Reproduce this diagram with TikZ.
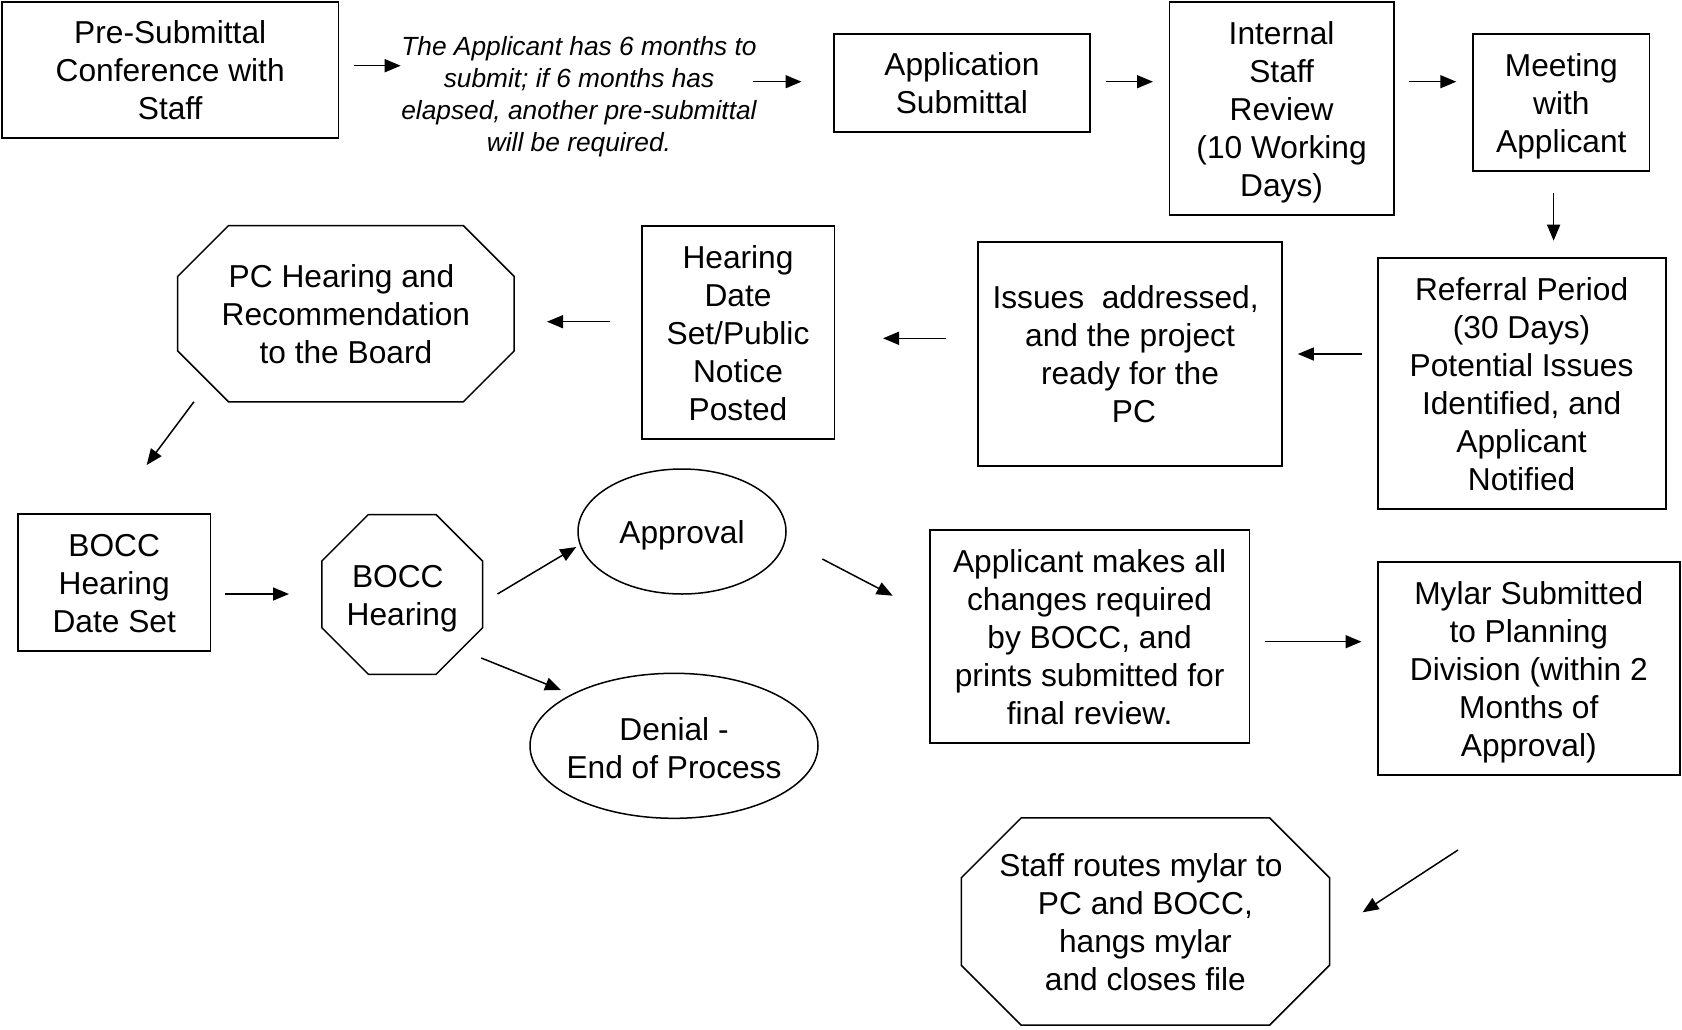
\documentclass[tikz,border=0pt]{standalone}
\usepackage{fontspec}
\setmainfont{Liberation Sans}
\usetikzlibrary{arrows.meta,calc}
\newcommand\bigf{\fontsize{31.7pt}{38pt}\selectfont}
\newcommand\notef{\fontsize{26.3pt}{32.2pt}\selectfont\itshape}
\newcommand\st{\rule[-7.2pt]{0pt}{38pt}}
\newcommand\sti{\rule[-6.1pt]{0pt}{32.2pt}}
\newcommand\tsp{\hspace*{8.8pt}}
\newcommand\octo[2]{%
  \draw[shp] ($(#1.north west)+(#2,0)$) -- ($(#1.north east)+(-#2,0)$) -- ($(#1.north east)+(0,#2)$) -- ($(#1.south east)+(0,-#2)$) -- ($(#1.south east)+(-#2,0)$) -- ($(#1.south west)+(#2,0)$) -- ($(#1.south west)+(0,-#2)$) -- ($(#1.north west)+(0,#2)$) -- cycle;}
\begin{document}
\begin{tikzpicture}[x=1pt,y=-1pt,
  box/.style={draw, line width=1.8pt, inner sep=0pt, align=center, font=\bigf},
  txt/.style={inner sep=0pt, align=center, font=\bigf},
  area/.style={inner sep=0pt, align=center, font=\bigf},
  shp/.style={line width=1.5pt, line join=miter},
  arr/.style={line width=1.5pt, -{Triangle[length=16pt,width=13pt]}}]
\useasboundingbox (0,0) rectangle (1682,1029);
% boxes
\node[box, minimum width=336.7pt, minimum height=136.6pt] (pre) at (170.2,70) {\st Pre-Submittal\\Conference with\\Staff\st};
\node[inner sep=0pt, align=center, font=\notef] (note) at (579,93.3) {\sti The Applicant has 6 months to\\submit; if 6 months has\\elapsed, another pre-submittal\\will be required.\sti};
\node[box, minimum width=256.3pt, minimum height=98pt] (app) at (961.9,82.7) {\st Application\\Submittal\st};
\node[box, minimum width=224.3pt, minimum height=213.3pt] (isr) at (1281.6,108.4) {\st Internal\\Staff\\Review\\(10 Working\\Days)\st};
\node[box, minimum width=176.5pt, minimum height=137pt] (meet) at (1561.3,102.2) {\st Meeting\\with\\Applicant\st};
\node[box, minimum width=288pt, minimum height=251.6pt] (ref) at (1521.6,383.5) {\st Referral Period\\(30 Days)\\Potential Issues\\Identified, and\\Applicant\\Notified\st};
\node[box, minimum width=304pt, minimum height=224pt] (iss) at (1130,353.7) {\st Issues\ \ addressed,\tsp\\and the project\tsp\\ready for the\tsp\\\hspace*{8pt}PC\st};
\node[box, minimum width=192.8pt, minimum height=213.3pt] (hds) at (738,332.4) {\st Hearing\\Date\\Set/Public\\Notice\\Posted\st};
\node[area, minimum width=336.2pt, minimum height=176pt] (pch) at (345.9,313.7) {\st PC Hearing and\tsp\\Recommendation\tsp\\to the Board\st};
\octo{pch}{51}
\node[box, minimum width=192.5pt, minimum height=136.7pt] (bds) at (114.2,582.4) {\st BOCC\\Hearing\\Date Set\st};
\node[area, minimum width=160.3pt, minimum height=159.3pt] (bh) at (402.2,594.4) {\st BOCC\tsp\\Hearing\st};
\octo{bh}{46.5}
\node[txt] (apv) at (682,531.5) {\st Approval};
\draw[shp] (682,531.5) ellipse [x radius=104pt, y radius=62.5pt];
\node[txt] (den) at (674,748) {\st Denial -\\End of Process\st};
\draw[shp] (674,745.8) ellipse [x radius=144pt, y radius=72.5pt];
\node[box, minimum width=319.9pt, minimum height=213.6pt] (amk) at (1089.6,636.5) {\st Applicant makes all\\changes required\\by BOCC, and\\prints submitted for\\final review.\st};
\node[box, minimum width=302.4pt, minimum height=213.3pt] (myl) at (1528.8,668.4) {\st Mylar Submitted\\to Planning\\Division (within 2\\Months of\\Approval)\st};
\node[area, minimum width=367.9pt, minimum height=207pt] (sta) at (1145.4,921.5) {\st Staff routes mylar to\tsp\\PC and BOCC,\tsp\\hangs mylar\tsp\\and closes file\st};
\octo{sta}{60}
% connector end points
\coordinate (a1s) at (353.5,65.7);  \coordinate (a1e) at (400.7,65.7);
\coordinate (a2s) at (753,81.7);    \coordinate (a2e) at (801.5,81.7);
\coordinate (a3s) at (1105.6,81.7); \coordinate (a3e) at (1153,81.7);
\coordinate (a4s) at (1409,81.7);   \coordinate (a4e) at (1456.3,81.7);
\coordinate (a5s) at (1553.6,193.3);\coordinate (a5e) at (1553.6,240.7);
\coordinate (a6s) at (1362,354);    \coordinate (a6e) at (1297.8,354);
\coordinate (a7s) at (946.4,338.3); \coordinate (a7e) at (883,338.3);
\coordinate (a8s) at (610,321.7);   \coordinate (a8e) at (547,321.7);
\coordinate (a9s) at (194,401.7);   \coordinate (a9e) at (146.7,465);
\coordinate (a10s) at (225.4,594);  \coordinate (a10e) at (289,594);
\coordinate (a11s) at (497.5,594);  \coordinate (a11e) at (576.2,547);
\coordinate (a12s) at (481.2,658);  \coordinate (a12e) at (561,690);
\coordinate (a13s) at (822.3,559);  \coordinate (a13e) at (892.7,595.7);
\coordinate (a14s) at (1265,641.7); \coordinate (a14e) at (1361.5,641.7);
\coordinate (a15s) at (1458,850);   \coordinate (a15e) at (1362.6,912.3);
\foreach \i in {1,...,15} {\draw[arr] (a\i s) -- (a\i e);}
\end{tikzpicture}
\end{document}
